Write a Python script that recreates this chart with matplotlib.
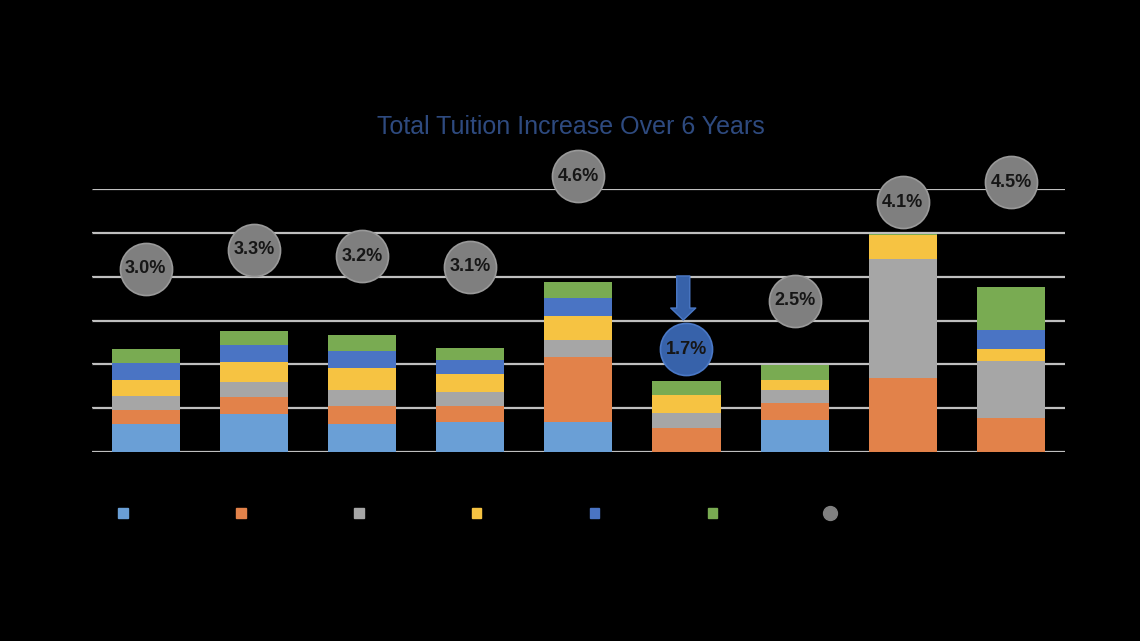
import matplotlib
matplotlib.use("Agg")
import matplotlib.pyplot as plt
from matplotlib.patches import Patch
from matplotlib.lines import Line2D
import numpy as np

plt.rcParams['font.family'] = ['Liberation Sans', 'DejaVu Sans']

# ---- data ----
categories = ["A", "B", "C", "D", "E", "F", "G", "H", "I"]
series_names = ["Year 1", "Year 2", "Year 3", "Year 4", "Year 5", "Year 6"]
year1 = [3.20, 4.31, 3.20, 3.43, 3.35, 0.00, 3.62, 0.00, 0.00]
year2 = [1.53, 1.94, 2.02, 1.79, 7.51, 2.74, 1.91, 8.38, 3.81]
year3 = [1.67, 1.75, 1.83, 1.56, 1.91, 1.72, 1.49, 13.68, 6.52]
year4 = [1.80, 2.21, 2.52, 2.06, 2.78, 2.06, 1.22, 2.71, 1.37]
year5 = [1.91, 1.94, 1.91, 1.60, 2.06, 0.00, 0.00, 0.00, 2.25]
year6 = [1.64, 1.60, 1.91, 1.37, 1.83, 1.52, 1.68, 0.15, 4.84]
avg_increase = [3.03, 3.34, 3.24, 3.06, 4.56, 1.70, 2.50, 4.13, 4.46]
highlight_index = 5

series = [year1, year2, year3, year4, year5, year6]
colors = ["#6a9fd6", "#e2824a", "#a6a6a6", "#f6c342", "#4a74c4", "#79ab52"]

fig = plt.figure(figsize=(11.4, 6.41), dpi=100, facecolor="black")
W, H = 1140, 641
left_px, right_px = 91.7, 1065.0
bottom_px, top_px = 451.7, 189.3
ax = fig.add_axes([left_px / W, 1 - bottom_px / H, (right_px - left_px) / W, (bottom_px - top_px) / H])
ax.set_facecolor("black")

x = np.arange(len(categories))
bottom = np.zeros(len(categories))
for vals, c, name in zip(series, colors, series_names):
    ax.bar(x, vals, bottom=bottom, width=0.63, color=c, label=name, zorder=2, linewidth=0)
    bottom += np.array(vals)

ax.set_xlim(-0.5, len(categories) - 0.5)
ax.set_ylim(0, 30)
ax.set_yticks(np.arange(0, 31, 5))
ax.yaxis.grid(True, color="#bfbfbf", linewidth=1.6)
ax.set_axisbelow(True)
ax.tick_params(left=False, bottom=False, labelleft=False, labelbottom=False)
for s in ax.spines.values():
    s.set_visible(False)

# secondary axis for the average-increase circles
ax2 = ax.twinx()
ax2.patch.set_visible(False)
ax2.set_ylim(0, (bottom_px - top_px) / 60.4)
ax2.set_yticks([])
for s in ax2.spines.values():
    s.set_visible(False)

for i, v in enumerate(avg_increase):
    hl = (i == highlight_index)
    fc = "#3762aa" if hl else "#7f7f7f"
    ec = "#4a78c6" if hl else "#999999"
    ax2.plot([x[i]], [v], marker="o", markersize=37.5, markerfacecolor=fc,
             markeredgecolor=ec, markeredgewidth=1.2, clip_on=False, zorder=5, linestyle="none")
    ax2.text(x[i], v, f"{v:.1f}%", ha="center", va="center", fontsize=13,
             fontweight="bold", color="#161616", zorder=6)

# arrow pointing at the highlighted circle
hi = highlight_index
ax2.annotate("", xy=(x[hi] - 0.03, avg_increase[hi]), xycoords="data",
             xytext=(0, 52.6), textcoords="offset points",
             arrowprops=dict(arrowstyle="simple,head_length=8.6,head_width=18,tail_width=9.4",
                             mutation_scale=1, shrinkA=0, shrinkB=20.9,
                             facecolor="#3762aa", edgecolor="#4a78c6", linewidth=1),
             zorder=5)

# title
fig.text(571 / W, 1 - 127 / H, "Total Tuition Increase Over 6 Years", ha="center", va="center",
         fontsize=18, color="#2e4a7f")

# legend (labels are not visible in the reference)
handles = [Patch(facecolor=c, edgecolor=c) for c in colors]
handles.append(Line2D([], [], marker="o", linestyle="none", markersize=10,
                      markerfacecolor="#808080", markeredgecolor="#808080"))
leg = fig.legend(handles, [""] * 7, ncol=7, loc="center left",
                 bbox_to_anchor=(118.0 / W, 1 - 514 / H), frameon=False,
                 fontsize=10, handlelength=0.7, handleheight=0.8, handletextpad=0.0,
                 columnspacing=7.79, borderpad=0, borderaxespad=0)

fig.savefig("out.png", dpi=100, facecolor="black")
